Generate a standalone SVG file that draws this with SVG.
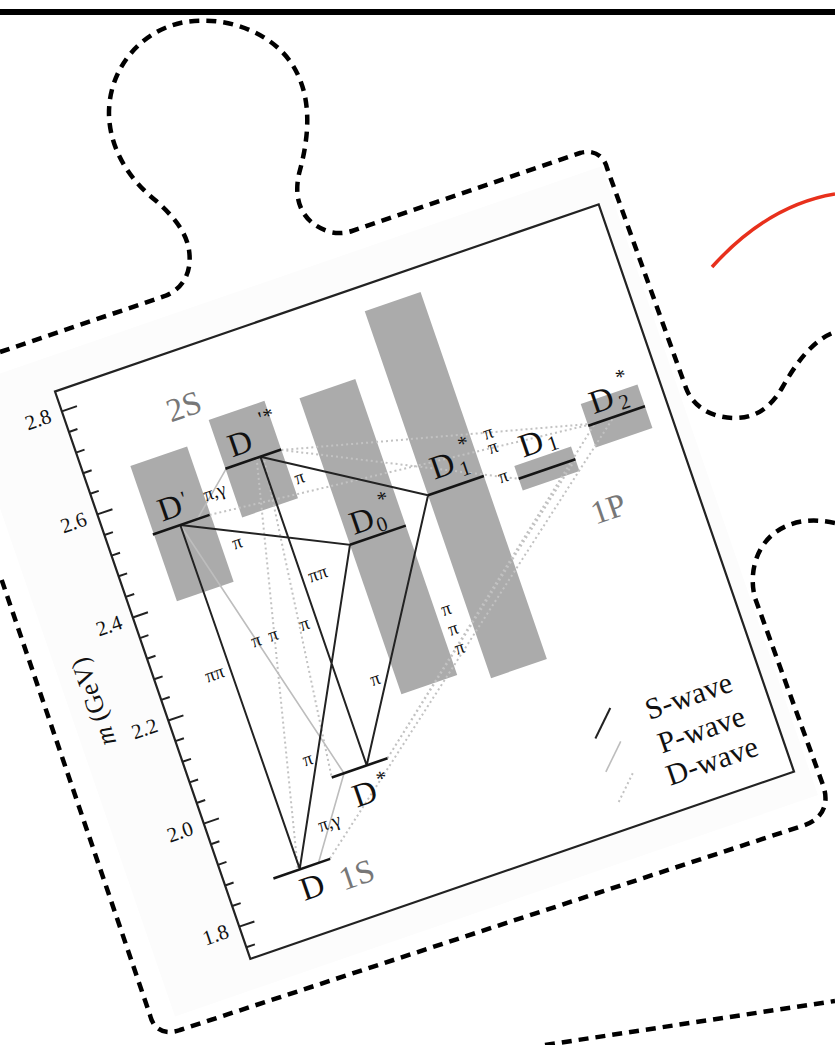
<svg xmlns="http://www.w3.org/2000/svg" width="835" height="1045" viewBox="0 0 835 1045">
<defs>
<style>
.puz{fill:none;stroke:#000;stroke-width:4.5;stroke-dasharray:10 7}
.band{fill:#ababab}
.lvl{stroke:#151515;stroke-width:2.6;fill:none}
.s{stroke:#222;stroke-width:2;fill:none}
.p{stroke:#bdbdbd;stroke-width:1.6;fill:none}
.d{stroke:#c2c2c2;stroke-width:2;fill:none;stroke-dasharray:2 3}
text{font-family:"Liberation Serif","DejaVu Serif",serif;fill:#111}
.pi{font-size:19px;text-anchor:middle}
.lab{font-size:33px;text-anchor:middle}
.sub{font-size:21px;text-anchor:middle}
.grey{fill:#777;font-size:33px;text-anchor:middle}
.tick{font-size:21px;text-anchor:end}
.leg{font-size:30px;text-anchor:middle}
</style>
</defs>
<rect width="835" height="1045" fill="#fff"/>
<rect x="0" y="9" width="835" height="6" fill="#000"/>
<path id="red-arc" d="M712,267 Q768,205 835,194" fill="none" stroke="#e8301c" stroke-width="3.5"/>
<g id="plot" transform="translate(55,391.5) rotate(-19)">
<rect x="-90" y="-35" width="680" height="665" fill="#fcfcfc"/>
<rect id="frame" x="0" y="0" width="575" height="600" fill="#fff" stroke="#222" stroke-width="2.2"/>
<g id="axis">
<path class="s" stroke-width="2.2" d="M0,21h16M0,42.8h9M0,64.6h9M0,86.4h9M0,108.2h9M0,130h16M0,151.8h9M0,173.6h9M0,195.4h9M0,217.2h9M0,239h16M0,260.8h9M0,282.6h9M0,304.4h9M0,326.2h9M0,348h16M0,369.8h9M0,391.6h9M0,413.4h9M0,435.2h9M0,457h16M0,478.8h9M0,500.6h9M0,522.4h9M0,544.2h9M0,566h16M0,587.8h9"/>
<text class="tick" x="-12" y="28">2.8</text>
<text class="tick" x="-12" y="137">2.6</text>
<text class="tick" x="-12" y="246">2.4</text>
<text class="tick" x="-12" y="355">2.2</text>
<text class="tick" x="-12" y="464">2.0</text>
<text class="tick" x="-12" y="573">1.8</text>
<text transform="translate(-56,306) rotate(-90)" style="font-size:26px;text-anchor:middle"><tspan font-style="italic">m</tspan> (GeV)</text>
</g>
<g id="bands">
<rect class="band" x="47" y="95" width="60" height="143"/>
<rect class="band" x="136" y="77" width="59" height="103"/>
<rect class="band" x="229" y="86" width="59" height="313"/>
<rect class="band" x="319" y="25" width="59" height="388"/>
<rect class="band" x="410" y="220" width="60" height="26"/>
<rect class="band" x="493" y="183" width="60" height="46"/>
</g>
<g id="connectors">
<path class="d" d="M106,167L500,206M195,129L500,206M195,129L410,233.5M108,531L520,206M195,455L500,206M195,455L470,233.5M169,128.5L74,531M176,128.5L136,455"/>
<path class="p" d="M75,167L149,455M93,167L137,128.5M96,531L149,455"/>
<path class="s" d="M75,167L76,531M75,167L229,241L76,531M173,128.5L319,219.5L173,455M173,128.5L173,455"/>
<text class="pi" x="59" y="325">ππ</text>
<text class="pi" x="123" y="208">π</text>
<text class="pi" x="119" y="436">π</text>
<text class="pi" x="203" y="167">π</text>
<text class="pi" x="209" y="382">π</text>
<text class="pi" x="189" y="264">ππ</text>
<text class="pi" x="109" y="307">π</text>
<text class="pi" x="127" y="307">π</text>
<text class="pi" x="160" y="307">π</text>
<text class="pi" x="118" y="153">π,γ</text>
<text class="pi" x="119" y="503">π,γ</text>
<text class="pi" x="396" y="186">π</text>
<text class="pi" x="396" y="201">π</text>
<text class="pi" x="396" y="232">π</text>
<text class="pi" x="299" y="339">π</text>
<text class="pi" x="299" y="360">π</text>
<text class="pi" x="299" y="380">π</text>
</g>
<g id="D"><path class="lvl" d="M48,531.5H108"/><text class="lab" x="82" y="563">D</text></g>
<g id="Dstar"><path class="lvl" d="M136,455H195"/><text class="lab" x="162" y="492">D</text><text class="sub" x="183" y="479">*</text></g>
<g id="Dprime"><path class="lvl" d="M46,167H106"/><text class="lab" x="71" y="158">D</text><text class="sub" x="87" y="150">'</text></g>
<g id="Dprimestar"><path class="lvl" d="M136,128.5H195"/><text class="lab" x="158" y="120">D</text><text class="sub" x="186" y="100">'</text><text class="sub" x="194" y="99">*</text></g>
<g id="D0star"><path class="lvl" d="M229,241H288"/><text class="lab" x="248" y="233">D</text><text class="sub" x="266" y="239">0</text><text class="sub" x="275" y="215">*</text></g>
<g id="D1star"><path class="lvl" d="M319,219.5H378"/><text class="lab" x="342" y="207">D</text><text class="sub" x="363" y="213">1</text><text class="sub" x="369" y="189">*</text></g>
<g id="D1"><path class="lvl" d="M410,233.5H470"/><text class="lab" x="433" y="215">D</text><text class="sub" x="454" y="218">1</text></g>
<g id="D2star"><path class="lvl" d="M493,206H553"/><text class="lab" x="514" y="197">D</text><text class="sub" x="535" y="202">2</text><text class="sub" x="540" y="177">*</text></g>
<g id="regions">
<text class="grey" x="117" y="67">2S</text>
<text class="grey" x="128" y="566">1S</text>
<text class="grey" x="485" y="302">1P</text>
</g>
<g id="legend">
<path class="s" d="M422,480L398,504"/>
<path class="p" d="M421,515L397,539"/>
<path class="d" d="M422,549L398,573"/>
<text class="leg" x="500" y="504">S-wave</text>
<text class="leg" x="501" y="540">P-wave</text>
<text class="leg" x="501" y="573">D-wave</text>
</g>
</g>
<g id="puzzle">
<path class="puz" d="M0,352 L165,296 C185,288 192,270 189,250 C186,230 170,213 155,200 C130,180 110,150 109,115 C108,70 140,30 185,22 C230,15 280,35 298,75 C312,105 308,140 300,170 C293,195 298,222 330,232 C338,234 346,233 352,231 L580,153 C594,149 604,156 607,168 L686,388 C693,407 712,418 735,418 C758,418 772,405 782,388 C795,365 812,340 835,332"/>
<path class="puz" d="M835,523 C812,518 790,520 772,535 C755,550 749,575 755,598 L823,785 C830,805 822,820 802,826 L180,1030 C163,1036 153,1028 150,1015 L0,575"/>
<path class="puz" d="M545,1045 L835,1001"/>
</g>
</svg>
